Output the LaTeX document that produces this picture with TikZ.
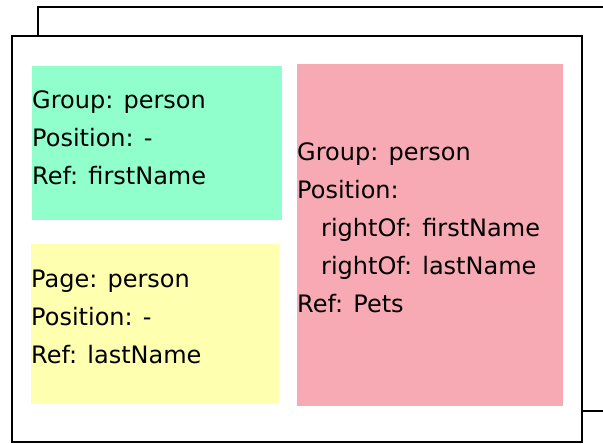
\documentclass[tikz,border=0pt]{standalone}
\usepackage{fontspec}
\setmainfont{DejaVu Sans}
\usetikzlibrary{positioning}

\definecolor{groupgreen}{RGB}{144,255,204}
\definecolor{pageyellow}{RGB}{255,255,176}
\definecolor{petspink}{RGB}{248,170,180}

\begin{document}
\begin{tikzpicture}[
x = 1pt, y = -1pt, % one unit per pixel, y going down
frame/.style = {draw = black, line width = 2pt, fill = white},
area/.style = {inner sep = 0pt, outer sep = 0pt, anchor = north west},
entry/.style = {inner sep = 0pt, anchor = base west, align = left,
                font = \fontsize{24}{38}\selectfont}
]

\useasboundingbox (0,0) rectangle (603,444);
\clip (0,0) rectangle (603,444);

% the page behind and the page in front
\draw[frame] (38,7) rectangle (640,411);
\node[frame, area, minimum width = 570pt, minimum height = 406pt] (page) at (12,36) {};

% coloured areas
\node[area, fill = groupgreen, minimum width = 250pt, minimum height = 154pt] (group) at (32,66) {};
\node[area, fill = pageyellow, minimum width = 248pt, minimum height = 160pt] (pg) [below = 24pt of group.south west, anchor = north west, xshift = -1pt] {};
\node[area, fill = petspink, minimum width = 266pt, minimum height = 342pt] (pets) at (297,64) {};

% their texts (base of a multi-line node is its last line)
\node[entry] (grouptext) at ([yshift = -118pt]group.north west)
  {Group: person\\Position: -\\Ref: firstName};
\node[entry] (pgtext) at ([yshift = -119pt]pg.north west)
  {Page: person\\Position: -\\Ref: lastName};
\node[entry] (petstext) at ([yshift = -248pt]pets.north west)
  {Group: person\\Position:\\\hspace*{24pt}rightOf: firstName\\\hspace*{24pt}rightOf: lastName\\Ref: Pets};

\end{tikzpicture}
\end{document}
